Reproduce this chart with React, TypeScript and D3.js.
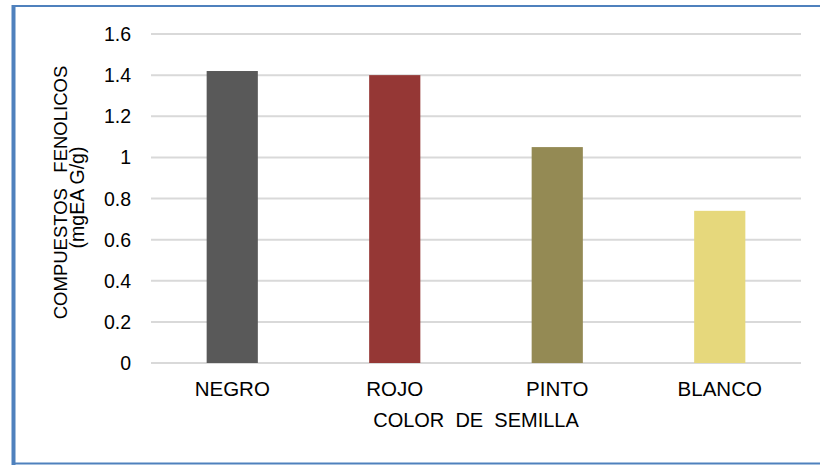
import React from "react";
import * as d3 from "d3";

// Seed colour categories and their phenolic compound content (mg EAG/g)
const categories: string[] = ["NEGRO", "ROJO", "PINTO", "BLANCO"];
const values: number[] = [1.42, 1.4, 1.05, 0.74];
const barColors: string[] = ["#595959", "#953735", "#948A54", "#E6D87C"];
const yTicks: number[] = [0, 0.2, 0.4, 0.6, 0.8, 1, 1.2, 1.4, 1.6];

const W = 820;
const H = 465;
const plot = { left: 151, right: 801, top: 34, bottom: 363 };
const FONT = "'Liberation Sans', Arial, sans-serif";

export default function App() {
  const x = d3
    .scaleBand<string>()
    .domain(categories)
    .range([plot.left, plot.right])
    .paddingInner(0)
    .paddingOuter(0);
  const y = d3.scaleLinear().domain([0, 1.6]).range([plot.bottom, plot.top]);
  const barW = x.bandwidth() * 0.315;
  const fmt = (v: number) => (Number.isInteger(v) ? String(v) : String(+v.toFixed(1)));
  const midY = (plot.top + plot.bottom) / 2;

  return (
    <svg
      width={W}
      height={H}
      style={{ position: "absolute", left: 0, top: 0, background: "#fff" }}
      fontFamily={FONT}
    >
      <rect x={0} y={0} width={W} height={H} fill="#fff" />

      {/* gridlines */}
      {yTicks.map((t) => (
        <line
          key={"g" + t}
          x1={plot.left}
          x2={plot.right}
          y1={y(t)}
          y2={y(t)}
          stroke="#d9d9d9"
          strokeWidth={2}
        />
      ))}

      {/* bars */}
      {categories.map((c, i) => {
        const cx = (x(c) as number) + x.bandwidth() / 2;
        return (
          <rect
            key={c}
            x={cx - barW / 2}
            y={y(values[i])}
            width={barW}
            height={y(0) - y(values[i])}
            fill={barColors[i]}
          />
        );
      })}

      {/* y tick labels */}
      {yTicks.map((t) => (
        <text
          key={"t" + t}
          x={131}
          y={y(t)}
          dy="0.36em"
          textAnchor="end"
          fontSize={19.5}
          fill="#000"
        >
          {fmt(t)}
        </text>
      ))}

      {/* category labels */}
      {categories.map((c) => (
        <text
          key={"c" + c}
          x={(x(c) as number) + x.bandwidth() / 2}
          y={396}
          textAnchor="middle"
          fontSize={20.5}
          fill="#000"
        >
          {c}
        </text>
      ))}

      {/* x axis title */}
      <text
        x={(plot.left + plot.right) / 2}
        y={427}
        textAnchor="middle"
        fontSize={20}
        fill="#000"
        style={{ whiteSpace: "pre" }}
      >
        {"COLOR  DE  SEMILLA"}
      </text>

      {/* y axis title */}
      <g transform={`translate(67, ${midY - 6}) rotate(-90)`}>
        <text textAnchor="middle" fontSize={18.5} fill="#000" style={{ whiteSpace: "pre" }}>
          {"COMPUESTOS   FENOLICOS"}
        </text>
      </g>
      <g transform={`translate(84, ${midY - 1}) rotate(-90)`}>
        <text textAnchor="middle" fontSize={19.5} fill="#000" style={{ whiteSpace: "pre" }}>
          {"(mgEA G/g)"}
        </text>
      </g>

      {/* chart border */}
      <line x1={13.5} x2={13.5} y1={5} y2={465} stroke="#4f81bd" strokeWidth={4} />
      <line x1={12} x2={W} y1={6} y2={6} stroke="#4f81bd" strokeWidth={2} />
      <line x1={12} x2={W} y1={463.5} y2={463.5} stroke="#4f81bd" strokeWidth={2} />
    </svg>
  );
}
